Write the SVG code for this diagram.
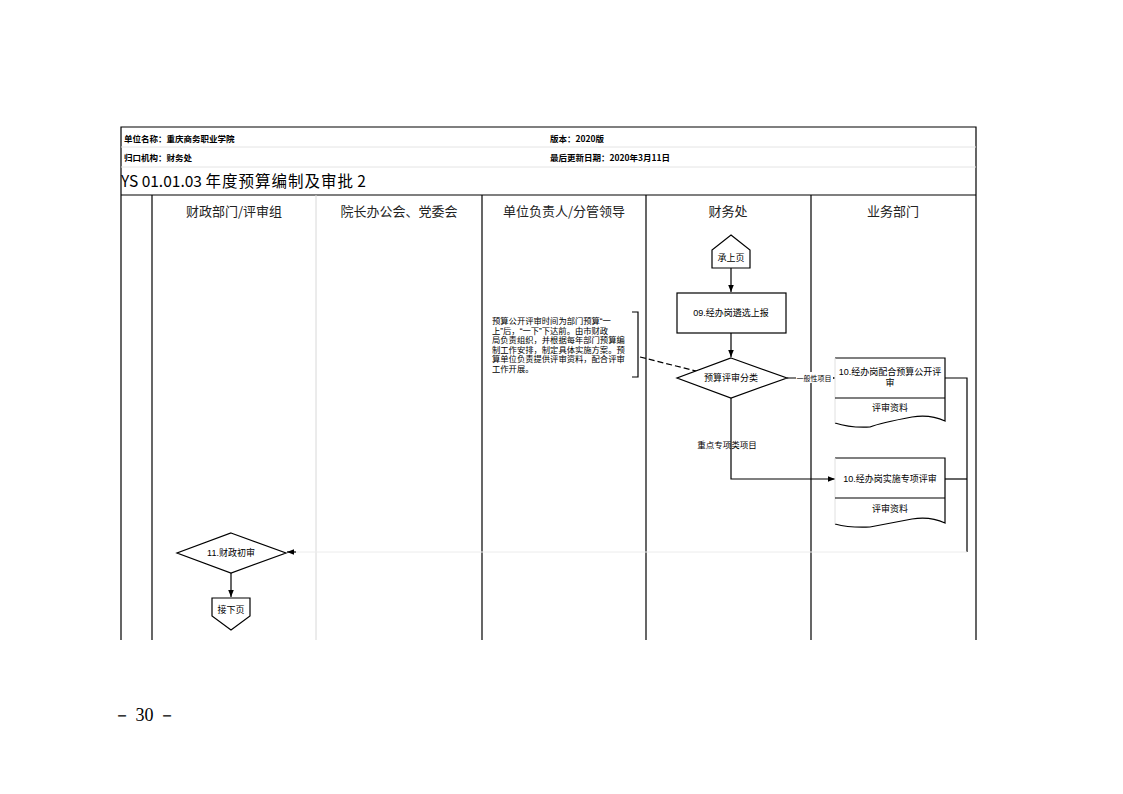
<svg xmlns="http://www.w3.org/2000/svg" width="1123" height="794" viewBox="0 0 1123 794">
<style>
.t{font-family:"Noto Sans CJK SC","Liberation Sans",sans-serif;fill:#000}
.h{font-size:8.5px;font-weight:bold}
.lane{font-size:13px;fill:#222;text-anchor:middle}
.n{font-size:9px;text-anchor:middle;font-family:"Liberation Sans","Noto Sans CJK SC",sans-serif}
.s{font-size:8.3px;font-family:"Liberation Sans","Noto Sans CJK SC",sans-serif}
.ln{stroke:#000;stroke-width:1.2;fill:none}
.faint{stroke:#e4e4e4;stroke-width:1;fill:none}
.sh{fill:#fff;stroke:#000;stroke-width:1.2}
</style>
<defs>
<marker id="a" viewBox="0 0 10 10" refX="10" refY="5" markerWidth="6" markerHeight="6" orient="auto"><path d="M0,1 L10,5 L0,9 z" fill="#000"/></marker>
</defs>
<rect width="1123" height="794" fill="#fff"/>

<g id="frame">
<path class="ln" d="M121,640 V127 H976 V640"/>
<line class="faint" x1="121" y1="147" x2="976" y2="147"/>
<line class="faint" x1="121" y1="167" x2="976" y2="167"/>
<line class="ln" x1="121" y1="195" x2="976" y2="195"/>
<line class="ln" x1="152" y1="195" x2="152" y2="640"/>
<line stroke="#d8d8d8" stroke-width="1" x1="316" y1="195" x2="316" y2="640"/>
<line class="ln" x1="482" y1="195" x2="482" y2="640"/>
<line class="ln" x1="646" y1="195" x2="646" y2="640"/>
<line class="ln" x1="811" y1="195" x2="811" y2="640"/>
<text class="t h" x="124" y="142">单位名称：重庆商务职业学院</text>
<text class="t h" x="124" y="161">归口机构：财务处</text>
<text class="t h" x="550" y="142">版本：2020版</text>
<text class="t h" x="550" y="161">最后更新日期：2020年3月11日</text>
<text class="t" x="121" y="187" font-size="15.5" font-family="Liberation Serif,Noto Sans CJK SC,serif" fill="#222">YS 01.01.03 <tspan font-family="Noto Sans CJK SC,sans-serif" letter-spacing="1">年度预算编制及审批</tspan> 2</text>
<text class="t lane" x="234" y="216">财政部门/评审组</text>
<text class="t lane" x="399" y="216">院长办公会、党委会</text>
<text class="t lane" x="564" y="216">单位负责人/分管领导</text>
<text class="t lane" x="728" y="216">财务处</text>
<text class="t lane" x="893" y="216">业务部门</text>
</g>

<g id="connectors">
<line class="ln" x1="731" y1="268" x2="731" y2="292" marker-end="url(#a)"/>
<line class="ln" x1="731" y1="333" x2="731" y2="357" marker-end="url(#a)"/>
<line class="ln" x1="787" y1="378" x2="835" y2="378" marker-end="url(#a)"/>
<path class="ln" d="M731,398 V479 H835" marker-end="url(#a)"/>
<path class="ln" d="M945,378 H967 V552"/>
<path class="ln" d="M945,479 H967"/>
<line stroke="#ececec" stroke-width="1" x1="967" y1="552" x2="294" y2="552"/>
<line class="ln" x1="296" y1="552" x2="287" y2="552" marker-end="url(#a)"/>
<line class="ln" x1="231" y1="573" x2="231" y2="597" marker-end="url(#a)"/>
<line class="ln" x1="640" y1="357" x2="700" y2="372" stroke-dasharray="6,3"/>
<rect x="796" y="372" width="37" height="11" fill="#fff"/>
<text class="t" x="814" y="381" font-size="7" text-anchor="middle">一般性项目</text>
<text class="t" x="727" y="448" font-size="8.5" text-anchor="middle">重点专项类项目</text>
</g>

<g id="n_prev">
<path class="sh" d="M731,235 L750,250 V268 H712 V250 Z"/>
<text class="t n" x="731" y="261" font-size="8.5">承上页</text>
</g>

<g id="n09">
<rect class="sh" x="677" y="293" width="109" height="40"/>
<text class="t n" x="731" y="316">09.经办岗遴选上报</text>
</g>

<g id="n_class">
<path class="sh" d="M731,358 L787,378 L731,398 L677,378 Z"/>
<text class="t n" x="731" y="381">预算评审分类</text>
</g>

<g id="n_note">
<text class="t s" x="492" y="324">预算公开评审时间为部门预算“一</text>
<text class="t s" x="492" y="333.6">上”后，“一下”下达前。由市财政</text>
<text class="t s" x="492" y="343.2">局负责组织，并根据每年部门预算编</text>
<text class="t s" x="492" y="352.8">制工作安排，制定具体实施方案。预</text>
<text class="t s" x="492" y="362.4">算单位负责提供评审资料，配合评审</text>
<text class="t s" x="492" y="372">工作开展。</text>
<path class="ln" d="M632,312 H638 V377 H632"/>
</g>

<g id="n10a">
<path fill="#fff" stroke="none" d="M835,358 H945 V421 Q930,414 912,417 Q880,423 870,427 Q850,428 835,423 Z"/>
<path class="ln" d="M835,358 H945 V421 Q930,414 912,417 Q880,423 870,427 Q850,428 835,423"/>
<line stroke="#e0e0e0" x1="835" y1="358" x2="835" y2="423"/>
<line class="ln" x1="835" y1="398" x2="945" y2="398"/>
<text class="t n" x="890" y="375" font-size="8.5">10.经办岗配合预算公开评</text>
<text class="t n" x="890" y="386" font-size="8.5">审</text>
<text class="t n" x="890" y="411" font-size="8.5">评审资料</text>
</g>

<g id="n10b">
<path fill="#fff" stroke="none" d="M835,458 H945 V523 Q930,516 912,519 Q880,525 870,527 Q850,528 835,524 Z"/>
<path class="ln" d="M835,458 H945 V523 Q930,516 912,519 Q880,525 870,527 Q850,528 835,524"/>
<line stroke="#e0e0e0" x1="835" y1="458" x2="835" y2="524"/>
<line class="ln" x1="835" y1="498" x2="945" y2="498"/>
<text class="t n" x="890" y="482" font-size="8.5">10.经办岗实施专项评审</text>
<text class="t n" x="890" y="512" font-size="8.5">评审资料</text>
</g>

<g id="n11">
<path class="sh" d="M231,533 L286,553 L231,573 L177,553 Z"/>
<text class="t n" x="231" y="556">11.财政初审</text>
</g>

<g id="n_next">
<path class="sh" d="M212,598 H250 V616 L231,630 L212,616 Z"/>
<text class="t n" x="231" y="613" font-size="8.5">接下页</text>
</g>

<text x="113" y="721" font-family="Liberation Serif,serif" font-size="18" fill="#000">－ 30 －</text>
</svg>
